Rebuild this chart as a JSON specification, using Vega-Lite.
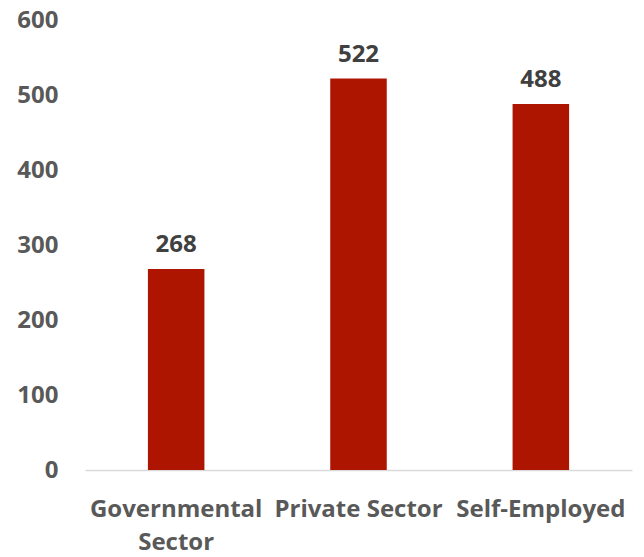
{
  "$schema": "https://vega.github.io/schema/vega-lite/v6.json",
  "autosize": "none",
  "width": 547,
  "height": 450,
  "padding": {"left": 85, "top": 20, "right": 12, "bottom": 87},
  "background": "white",
  "data": {"values": [
    {"sector": "Governmental Sector", "count": 268},
    {"sector": "Private Sector", "count": 522},
    {"sector": "Self-Employed", "count": 488}
  ]},
  "config": {"view": {"stroke": null}, "font": "Open Sans"},
  "encoding": {
    "x": {"field": "sector", "type": "nominal", "sort": null,
      "scale": {"paddingInner": 0.69, "paddingOuter": 0.345},
      "axis": {"title": null, "labelAngle": 0, "ticks": false, "domainColor": "#D9D9D9", "domainWidth": 1.5,
        "labelFont": "Open Sans", "labelFontWeight": "bold", "labelFontSize": 24, "labelColor": "#595959",
        "labelPadding": 27, "labelLineHeight": 33, "labelLimit": 0, "labelOverlap": false,
        "labelExpr": "datum.label == 'Governmental Sector' ? ['Governmental', 'Sector'] : datum.label"}},
    "y": {"field": "count", "type": "quantitative",
      "scale": {"domain": [0, 600]},
      "axis": {"title": null, "grid": false, "domain": false, "ticks": false, "values": [0,100,200,300,400,500,600],
        "labelOverlap": false,
        "labelFont": "Open Sans", "labelFontWeight": "bold", "labelFontSize": 24, "labelColor": "#595959", "labelPadding": 27}}
  },
  "layer": [
    {"mark": {"type": "bar", "color": "#AE1500"}},
    {"mark": {"type": "text", "baseline": "bottom", "dy": -12, "font": "Open Sans", "fontWeight": "bold", "fontSize": 24, "color": "#404040"},
     "encoding": {"text": {"field": "count", "type": "quantitative"}}}
  ]
}
